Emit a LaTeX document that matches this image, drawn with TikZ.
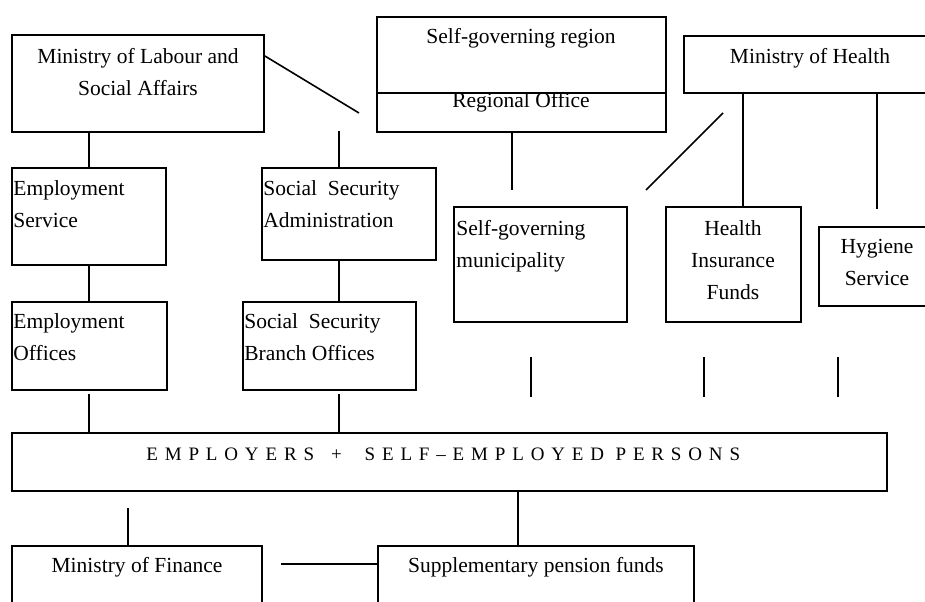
\documentclass[tikz,border=0pt]{standalone}
\usepackage{fontspec}
\setmainfont{Liberation Serif}
\newfontfamily\trackedfont[LetterSpace=36]{Liberation Serif}
\usetikzlibrary{fit,calc}

\begin{document}
\begin{tikzpicture}[x=0.5pt,y=-0.5pt,
  box/.style={draw, line width=0.9pt, inner sep=0pt},
  link/.style={draw, line width=0.8pt},
  lbl/.style={inner sep=0pt, align=center, font=\fontsize{10.75}{16}\selectfont},
  lbll/.style={inner sep=0pt, align=left, font=\fontsize{10.75}{16}\selectfont},
  banner/.style={inner sep=0pt, font=\fontsize{9.5}{12}\trackedfont}]

\useasboundingbox (0,0) rectangle (925,601);
\clip (0,0) rectangle (925,601);

% organisation boxes
\node[box, fit={(12,35) (264,132)}] (mol) {};
\node[box, fit={(377,17) (666,132)}] (region) {};
\node[box, fit={(684,36) (945,93)}] (moh) {};
\node[box, fit={(12,168) (166,265)}] (es) {};
\node[box, fit={(262,168) (436,260)}] (ssa) {};
\node[box, fit={(454,207) (627,322)}] (sgm) {};
\node[box, fit={(666,207) (801,322)}] (hif) {};
\node[box, fit={(819,227) (945,306)}] (hyg) {};
\node[box, fit={(12,302) (167,390)}] (eo) {};
\node[box, fit={(243,302) (416,390)}] (ssbo) {};
\node[box, fit={(12,433) (887,491)}] (emp) {};
\node[box, fit={(12,546) (262,630)}] (mof) {};
\node[box, fit={(378,546) (694,630)}] (spf) {};

% labels
\node[lbl, anchor=north] (molT) at (138,48) {Ministry of Labour and\\Social Affairs};
\node[lbl, anchor=base] (regT) at (521,43) {Self-governing region};
\node[lbl, anchor=base] (roT) at (521,107) {Regional Office};
\node[lbl, anchor=base] (mohT) at (810,63) {Ministry of Health};
\node[lbll, anchor=north west] (esT) at (13,180) {Employment\\Service};
\node[lbll, anchor=north west] (ssaT) at (263,180) {Social\ \ Security\\Administration};
\node[lbll, anchor=north west] (sgmT) at (456,220) {Self-governing\\municipality};
\node[lbl, anchor=north] (hifT) at (733,220) {Health\\Insurance\\Funds};
\node[lbl, anchor=north] (hygT) at (877,239) {Hygiene\\Service};
\node[lbll, anchor=north west] (eoT) at (13,313) {Employment\\Offices};
\node[lbll, anchor=north west] (ssboT) at (244,313) {Social\ \ Security\\Branch Offices};
\node[banner, anchor=base west] (empT) at (146,460) {EMPLOYERS\hspace{0.9em}+\hspace{1.2em}SELF–EMPLOYED PERSONS};
\node[lbl, anchor=base] (mofT) at (137,572) {Ministry of Finance};
\node[lbl, anchor=base] (spfT) at (536,572) {Supplementary pension funds};

% reference rows and columns for the connectors
\coordinate (colA) at (89,0);
\coordinate (colB) at (339,0);
\coordinate (colC) at (512,0);
\coordinate (colD) at (743,0);
\coordinate (colE) at (877,0);
\coordinate (colF) at (518,0);
\coordinate (colG) at (128,0);
\coordinate (rowA) at (0,56);
\coordinate (rowB) at (0,564);
\coordinate (rowC) at (0,93);

% free line ends
\coordinate (molEnd) at (359,113);
\coordinate (ssaTop) at (339,131);
\coordinate (regEnd) at (512,190);
\coordinate (diagA) at (723,113);
\coordinate (diagB) at (646,190);
\coordinate (hygEnd) at (877,209);
\coordinate (eoEnd) at (89,394);
\coordinate (ssboEnd) at (339,394);
\coordinate (tickA1) at (531,357);
\coordinate (tickA2) at (531,397);
\coordinate (tickB1) at (704,357);
\coordinate (tickB2) at (704,397);
\coordinate (tickC1) at (838,357);
\coordinate (tickC2) at (838,397);
\coordinate (mofTop) at (128,508);
\coordinate (mofEnd) at (281,564);

% divider inside the regional box
\draw[link] (region.west |- rowC) -- (region.east |- rowC);

% connectors
\draw[link] (mol.east |- rowA) -- (molEnd);
\draw[link] (mol.south -| colA) -- (es.north -| colA);
\draw[link] (ssaTop) -- (ssa.north -| colB);
\draw[link] (es.south -| colA) -- (eo.north -| colA);
\draw[link] (ssa.south -| colB) -- (ssbo.north -| colB);
\draw[link] (eoEnd) -- (emp.north -| colA);
\draw[link] (ssboEnd) -- (emp.north -| colB);
\draw[link] (region.south -| colC) -- (regEnd);
\draw[link] (diagA) -- (diagB);
\draw[link] (moh.south -| colD) -- (hif.north -| colD);
\draw[link] (moh.south -| colE) -- (hygEnd);
\draw[link] (tickA1) -- (tickA2);
\draw[link] (tickB1) -- (tickB2);
\draw[link] (tickC1) -- (tickC2);
\draw[link] (emp.south -| colF) -- (spf.north -| colF);
\draw[link] (mofTop) -- (mof.north -| colG);
\draw[link] (mofEnd) -- (spf.west |- rowB);

\end{tikzpicture}
\end{document}
